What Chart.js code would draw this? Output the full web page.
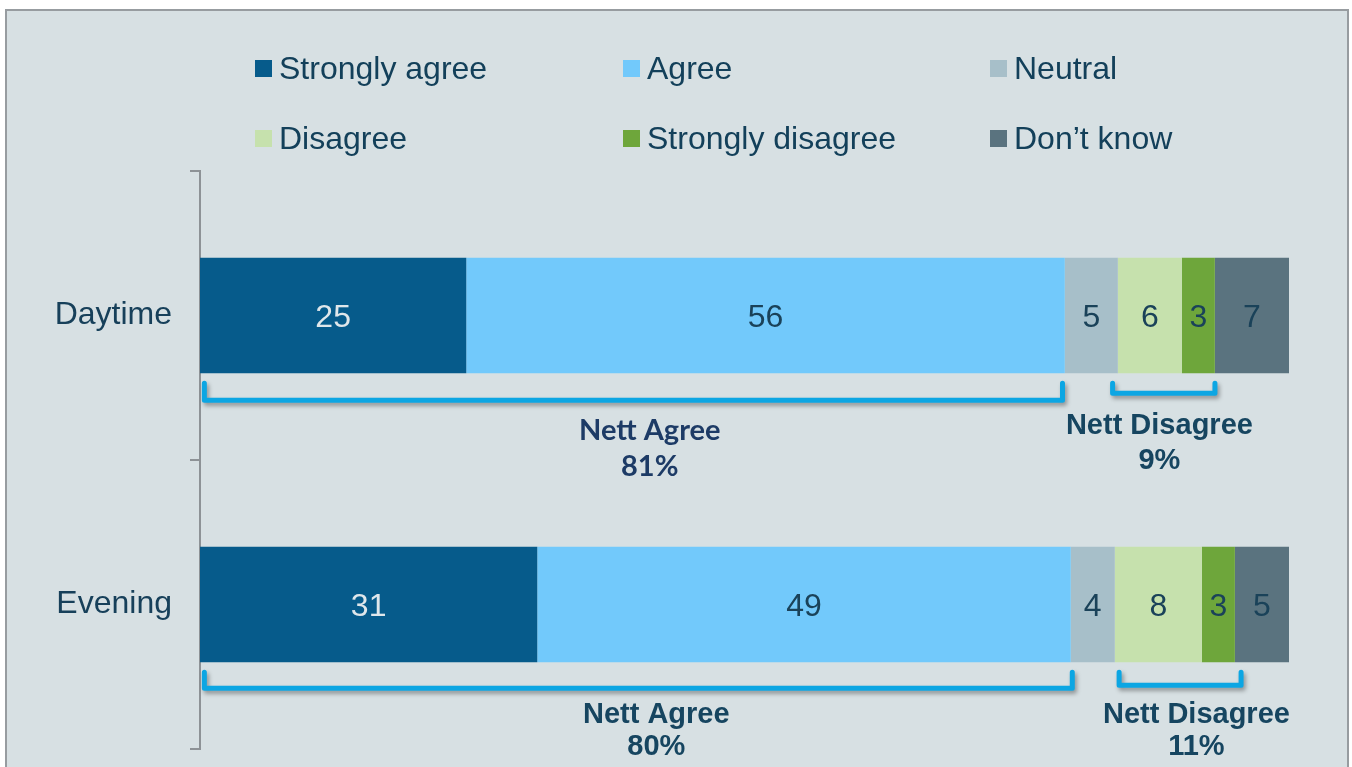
<!DOCTYPE html>
<html>
<head>
<meta charset="utf-8">
<script src="https://cdn.jsdelivr.net/npm/chart.js@4.4.1/dist/chart.umd.min.js"></script>
<style>
html,body{margin:0;padding:0;background:#fff;width:1352px;height:767px;overflow:hidden}
#frame{position:absolute;left:5px;top:9px;width:1344px;height:800px;box-sizing:border-box;border:2px solid #979ca0;background:#d7e0e3}
#wrap{position:absolute;left:0;top:0;width:1352px;height:767px}
</style>
</head>
<body>
<div id="frame"></div>
<div id="wrap"><canvas id="chart" width="1352" height="767"></canvas></div>
<script>
const categories = ['Daytime', 'Evening'];
const seriesNames = ['Strongly agree', 'Agree', 'Neutral', 'Disagree', 'Strongly disagree', 'Don\u2019t know'];
const daytimeShares = [24.45, 54.96, 4.87, 5.88, 3.03, 6.81];
const eveningShares = [30.97, 48.99, 4.04, 8.0, 3.03, 4.97];
const daytimeLabels = ['25', '56', '5', '6', '3', '7'];
const eveningLabels = ['31', '49', '4', '8', '3', '5'];
const nettAgree = ['81%', '80%'];
const nettDisagree = ['9%', '11%'];

const colors = ['#065b8b', '#72c9fb', '#a7bfc9', '#c6e1ad', '#6ea63b', '#5a737f'];
const FONT = "'Liberation Sans', Arial, sans-serif";
const rowLabels = [daytimeLabels, eveningLabels];

// bracket spans in axis units
const brackets = [
  {row: 0, from: 0.4, to: 79.2, depth: 17, textX: 41.3, dy: [57, 93], lines: ['Nett Agree', nettAgree[0]], font: "Lato, 'Open Sans', sans-serif", color: '#1d3b66'},
  {row: 0, from: 83.8, to: 93.2, depth: 10, textX: 88.1, dy: [53, 88], lines: ['Nett Disagree', nettDisagree[0]], font: FONT, color: '#164560'},
  {row: 1, from: 0.4, to: 80.1, depth: 16, textX: 41.9, dy: [53, 85], lines: ['Nett Agree', nettAgree[1]], font: FONT, color: '#164560'},
  {row: 1, from: 84.4, to: 95.6, depth: 13, textX: 91.5, dy: [53, 85], lines: ['Nett Disagree', nettDisagree[1]], font: FONT, color: '#164560'}
];

const datasets = seriesNames.map((name, i) => ({
  label: name,
  data: [daytimeShares[i], eveningShares[i]],
  backgroundColor: colors[i],
  borderWidth: 0,
  barPercentage: 0.4,
  categoryPercentage: 1
}));

const segmentLabels = {
  id: 'segmentLabels',
  afterDatasetsDraw(chart) {
    const ctx = chart.ctx;
    ctx.save();
    ctx.font = '32px ' + FONT;
    ctx.textAlign = 'center';
    ctx.textBaseline = 'middle';
    chart.data.datasets.forEach((ds, i) => {
      chart.getDatasetMeta(i).data.forEach((bar, j) => {
        ctx.fillStyle = i === 0 ? '#dfe7eb' : '#1a4259';
        ctx.fillText(rowLabels[j][i], (bar.x + bar.base) / 2, bar.y + 3);
      });
    });
    ctx.restore();
  }
};

const nettBrackets = {
  id: 'nettBrackets',
  afterDraw(chart) {
    const ctx = chart.ctx;
    const xs = chart.scales.x;
    const meta = chart.getDatasetMeta(0);
    brackets.forEach(b => {
      const bar = meta.data[b.row];
      const bottom = bar.y + bar.height / 2;
      const x1 = xs.getPixelForValue(b.from);
      const x2 = xs.getPixelForValue(b.to);
      const top = bottom + 10;
      ctx.save();
      ctx.strokeStyle = '#0ca6e3';
      ctx.lineWidth = 5;
      ctx.lineJoin = 'round';
      ctx.lineCap = 'round';
      ctx.shadowColor = 'rgba(0,0,0,0.35)';
      ctx.shadowBlur = 4;
      ctx.shadowOffsetX = 2;
      ctx.shadowOffsetY = 3;
      ctx.beginPath();
      ctx.moveTo(x1, top);
      ctx.lineTo(x1, top + b.depth);
      ctx.lineTo(x2, top + b.depth);
      ctx.lineTo(x2, top);
      ctx.stroke();
      ctx.restore();

      ctx.save();
      ctx.fillStyle = b.color;
      ctx.font = 'bold 29px ' + b.font;
      ctx.textAlign = 'center';
      ctx.textBaseline = 'middle';
      const tx = xs.getPixelForValue(b.textX);
      ctx.fillText(b.lines[0], tx, bottom + b.dy[0]);
      ctx.fillText(b.lines[1], tx, bottom + b.dy[1]);
      ctx.restore();
    });
  }
};

const gridLegend = {
  id: 'gridLegend',
  afterDraw(chart) {
    const ctx = chart.ctx;
    const cols = [255, 623, 990];
    const rows = [68, 138];
    ctx.save();
    ctx.font = '32px ' + FONT;
    ctx.textBaseline = 'middle';
    chart.data.datasets.forEach((ds, i) => {
      const x = cols[i % 3];
      const y = rows[Math.floor(i / 3)];
      ctx.fillStyle = ds.backgroundColor;
      ctx.fillRect(x, y - 8, 17, 17);
      ctx.fillStyle = '#13405a';
      ctx.fillText(ds.label, x + 24, y + 2);
    });
    ctx.restore();
  }
};

new Chart(document.getElementById('chart'), {
  type: 'bar',
  data: {labels: categories, datasets: datasets},
  options: {
    indexAxis: 'y',
    responsive: false,
    animation: false,
    layout: {padding: {top: 171, right: 63, bottom: 18, left: 0}},
    plugins: {legend: {display: false}, tooltip: {enabled: false}},
    scales: {
      x: {stacked: true, min: 0, max: 100, display: false},
      y: {
        stacked: true,
        grid: {drawOnChartArea: false, tickLength: 10, color: '#8d9296', lineWidth: 2, offset: true},
        border: {color: '#8d9296', width: 2},
        ticks: {color: '#17405a', font: {family: FONT, size: 32}, padding: 18},
        afterFit(scale) {
          scale.width = 200;
          scale.paddingTop = 0;
          scale.paddingBottom = 0;
        }
      }
    }
  },
  plugins: [segmentLabels, nettBrackets, gridLegend]
});
</script>
</body>
</html>
